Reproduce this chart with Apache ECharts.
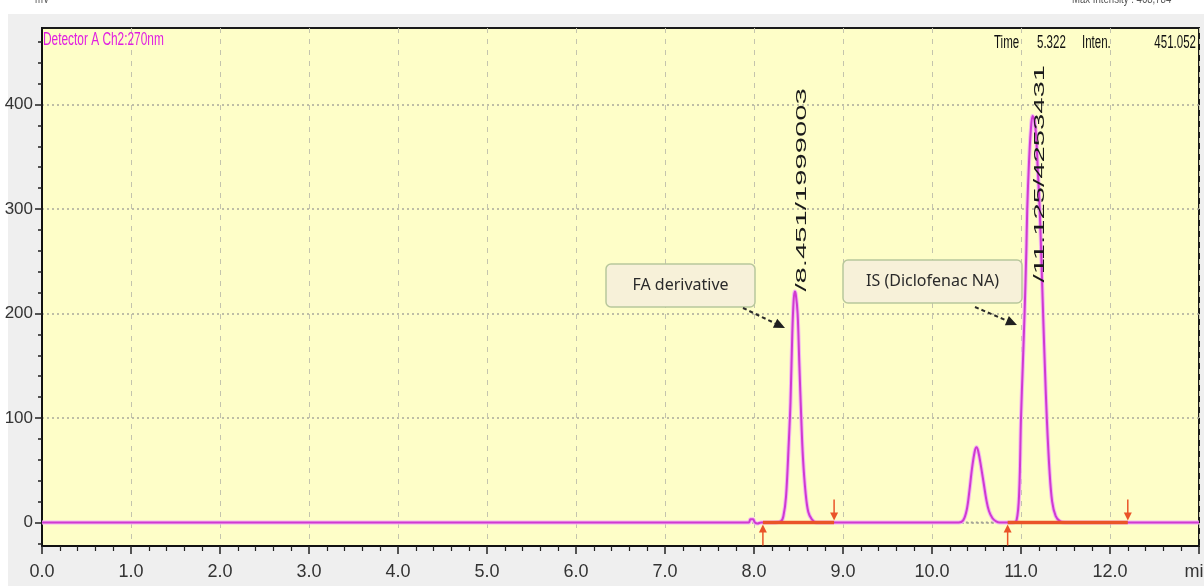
<!DOCTYPE html>
<html><head><meta charset="utf-8">
<script src="https://cdn.jsdelivr.net/npm/echarts@6/dist/echarts.min.js"></script>
<style>html,body{margin:0;padding:0;background:#fff}#c{width:1204px;height:586px}</style>
</head><body><div id="c"></div>
<script>
// ---- data ----
const traceTime = [0, 7.94, 7.96, 7.99, 8.01, 8.04, 8.08, 8.20, 8.30, 8.33, 8.36, 8.39, 8.41, 8.43, 8.445, 8.458, 8.47, 8.49, 8.51, 8.53, 8.55, 8.58, 8.61, 8.65, 8.70,
  10.30, 10.35, 10.39, 10.42, 10.45, 10.48, 10.50, 10.52, 10.55, 10.58, 10.61, 10.64, 10.68, 10.72, 10.76,
  10.90, 10.95, 10.98, 11.00, 11.02, 11.04, 11.06, 11.07, 11.09, 11.11, 11.13, 11.15, 11.17, 11.19, 11.21, 11.23, 11.25, 11.27, 11.29, 11.32, 11.35, 11.39, 11.44, 11.50, 13.0];
const traceIntensity = [0, 0, 3, 3, 0, -1, 0, 0, 1, 6, 25, 75, 115, 180, 212, 221, 218, 200, 150, 102, 62, 28, 10, 3, 0,
  0, 2, 12, 30, 52, 68, 72, 68, 54, 38, 22, 11, 4, 1, 0,
  0, 2, 30, 100, 150, 200, 260, 300, 345, 375, 389, 385, 370, 335, 300, 250, 195, 145, 100, 50, 20, 6, 1, 0, 0];
const peakTimes = [8.451, 11.125];
const peakHeights = [221, 389];
const peakAreas = [1999003, 4253431];
const integStart = [8.10, 10.85];
const integEnd = [8.90, 12.20];
const valleyStart = [10.38];
const valleyEnd = [10.70];
const yTickValues = [0, 100, 200, 300, 400];
const xUnitLabel = 'min';
const yUnitLabel = 'mV';
const detectorLabel = 'Detector A Ch2:270nm';
const cursorTexts = ['Time', '5.322', 'Inten.', '451.052'];
const maxIntensityText = 'Max Intensity : 468,784';
const annotationTexts = ['FA derivative', 'IS (Diclofenac NA)'];

// ---- chart ----
const yMinor = [];
for (let v = -20; v <= 460; v += 20) yMinor.push(v);
const labelFont = "'Liberation Sans',Arial,sans-serif";
const YMIN = -22.5, YMAX = 473.2;

const measureCtx = document.createElement('canvas').getContext('2d');
function textWidth(t, font) { measureCtx.font = font; return measureCtx.measureText(t).width; }

const trace = traceTime.map((t, i) => [t, traceIntensity[i]]);

function arrowGraphic(x1, y1, x2, y2) {
  const ang = Math.atan2(y2 - y1, x2 - x1), L = 11, W = 5;
  const bx = x2 - L * Math.cos(ang), by = y2 - L * Math.sin(ang);
  const nx = -Math.sin(ang) * W, ny = Math.cos(ang) * W;
  return [
    {type: 'line', z: 110, shape: {x1, y1, x2: bx, y2: by}, style: {stroke: '#2b2b2b', lineWidth: 2, lineDash: [4, 3]}},
    {type: 'polygon', z: 110, shape: {points: [[x2, y2], [bx + nx, by + ny], [bx - nx, by - ny]]}, style: {fill: '#1f1f1f'}}
  ];
}
function boxGraphic(x, y, w, h, text) {
  return [
    {type: 'rect', z: 110, shape: {x, y, width: w, height: h, r: 5}, style: {fill: '#f7f1d9', stroke: '#b8c79c', lineWidth: 1.5}},
    {type: 'text', z: 111, x: x + w / 2, y: y + h / 2, style: {text, font: "16px 'Noto Sans', 'Open Sans', sans-serif", fill: '#2a2a2a', align: 'center', verticalAlign: 'middle'}}
  ];
}
function squeezedText(text, x, y, color, size, sx, align) {
  return {type: 'text', z: 111, x, y, scaleX: sx, style: {text, font: size + "px 'Liberation Sans', Arial, sans-serif", fill: color, align: align || 'left', verticalAlign: 'top'}};
}

const graphics = [
  {type: 'rect', z: -5, shape: {x: 0, y: 0, width: 1204, height: 14}, style: {fill: '#ffffff'}},
  {type: 'rect', z: -5, shape: {x: 0, y: 0, width: 8, height: 586}, style: {fill: '#ffffff'}},
  squeezedText(yUnitLabel, 35, -6, '#555', 12, 0.8),
  squeezedText(maxIntensityText, 1072, -6, '#555', 12, 0.8),
  squeezedText(detectorLabel, 43, 31, '#e01ee0', 18, 0.66),
  squeezedText(cursorTexts[0], 994, 34, '#111', 18, 0.64),
  squeezedText(cursorTexts[1], 1037, 34, '#111', 18, 0.64),
  squeezedText(cursorTexts[2], 1082, 34, '#111', 18, 0.64),
  squeezedText(cursorTexts[3], 1196, 34, '#111', 18, 0.64, 'right'),
  ...boxGraphic(606, 264, 149, 43, annotationTexts[0]),
  ...boxGraphic(843, 260, 179, 43, annotationTexts[1]),
  ...arrowGraphic(743, 308, 785, 328),
  ...arrowGraphic(975, 307, 1017, 325)
];

const option = {
  animation: false,
  backgroundColor: '#efefef',
  grid: {left: 42, right: 5, top: 28, bottom: 40, show: true, containLabel: false, outerBoundsMode: 'none',
         backgroundColor: '#fefec8', borderColor: '#1a1a1a', borderWidth: 2},
  xAxis: {
    type: 'value', min: 0, max: 13, interval: 1,
    axisLine: {show: true, onZero: false, lineStyle: {color: '#111', width: 2}},
    axisTick: {show: true, length: 8, lineStyle: {color: '#222', width: 1.5}},
    minorTick: {show: true, splitNumber: 5, length: 5, lineStyle: {color: '#222', width: 1.2}},
    axisLabel: {formatter: v => (v === 13 ? xUnitLabel : v.toFixed(1)), fontSize: 18, fontFamily: labelFont, color: '#333', margin: 17, showMinLabel: true, showMaxLabel: true, hideOverlap: false},
    splitLine: {show: true, lineStyle: {color: '#c4c4ad', type: [5, 6], width: 1}}
  },
  yAxis: [{
    type: 'value', min: YMIN, max: YMAX, position: 'left',
    axisLine: {show: true, onZero: false, lineStyle: {color: '#111', width: 2}},
    axisTick: {show: true, customValues: yTickValues, length: 7, lineStyle: {color: '#222', width: 1.5}},
    axisLabel: {customValues: yTickValues, fontSize: 17, fontFamily: labelFont, color: '#333', margin: 9},
    splitLine: {show: true, lineStyle: {color: '#a9a99a', type: [2, 3], width: 1.5}}
  }, {
    type: 'value', min: YMIN, max: YMAX, position: 'left',
    axisLine: {show: false},
    axisTick: {show: true, customValues: yMinor, length: 4, lineStyle: {color: '#222', width: 1.5}},
    axisLabel: {show: false},
    splitLine: {show: false}
  }],
  series: [
    {type: 'line', yAxisIndex: 0, silent: true, z: 1, showSymbol: false, symbol: 'none',
     data: valleyStart.flatMap((s, i) => [[s, 0], [valleyEnd[i], 0], [valleyEnd[i], '-']]),
     lineStyle: {color: '#a3a394', width: 2, type: [2, 3]}},
    {type: 'line', yAxisIndex: 0, silent: true, z: 2, showSymbol: false, symbol: 'none', smooth: 0.35, data: trace,
     lineStyle: {color: '#f3b6f1', width: 4}},
    {type: 'line', yAxisIndex: 0, silent: true, z: 3, showSymbol: false, symbol: 'none', smooth: 0.35, data: trace,
     lineStyle: {color: '#d03ad0', width: 2}},
    {type: 'custom', yAxisIndex: 0, silent: true, z: 5, clip: false,
     data: integStart.map((s, i) => [s, integEnd[i]]),
     encode: {x: [0, 1]},
     renderItem: (params, api) => {
       const s = api.coord([api.value(0), 0]), e = api.coord([api.value(1), 0]);
       const c = '#ea5428';
       return {type: 'group', children: [
         {type: 'line', shape: {x1: s[0], y1: s[1], x2: e[0], y2: e[1]}, style: {stroke: c, lineWidth: 3.5}},
         {type: 'line', shape: {x1: s[0], y1: s[1] + 23, x2: s[0], y2: s[1] + 8}, style: {stroke: c, lineWidth: 1.5}},
         {type: 'polygon', shape: {points: [[s[0] - 4, s[1] + 10], [s[0] + 4, s[1] + 10], [s[0], s[1] + 2]]}, style: {fill: c}},
         {type: 'line', shape: {x1: e[0], y1: e[1] - 23, x2: e[0], y2: e[1] - 8}, style: {stroke: c, lineWidth: 1.5}},
         {type: 'polygon', shape: {points: [[e[0] - 4, e[1] - 10], [e[0] + 4, e[1] - 10], [e[0], e[1] - 2]]}, style: {fill: c}}
       ]};
     }},
    {type: 'custom', yAxisIndex: 0, silent: true, z: 6, clip: false,
     data: peakTimes.map((t, i) => [t, peakHeights[i], i]),
     encode: {x: 0, y: 1},
     renderItem: (params, api) => {
       const i = api.value(2);
       const p = api.coord([api.value(0), api.value(1)]);
       const txt = '/' + peakTimes[i].toFixed(3) + '/' + peakAreas[i];
       const font = "15px 'Liberation Sans', Arial, sans-serif";
       const sx = 1.95;
       const len = textWidth(txt, font) * sx;
       const bottom = Math.max(p[1], params.coordSys.y + 37 + len);
       return {type: 'text', x: p[0] + 8, y: bottom, rotation: Math.PI / 2, scaleX: sx,
         style: {text: txt, font, fill: '#1a1a1a', align: 'left', verticalAlign: 'middle'}};
     }}
  ],
  graphic: {elements: graphics}
};
const chart = echarts.init(document.getElementById('c'));
chart.setOption(option);
</script></body></html>
